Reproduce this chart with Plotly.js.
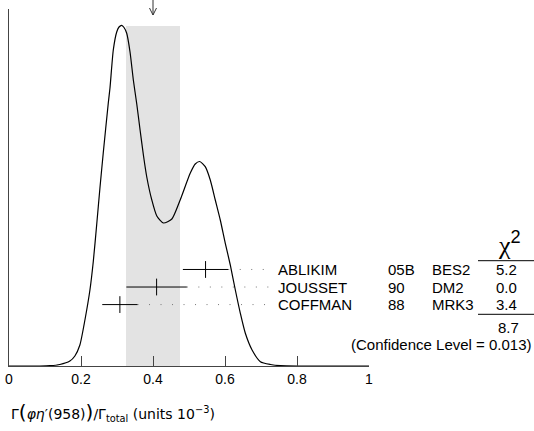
<!DOCTYPE html>
<html><head><meta charset="utf-8">
<script src="https://cdn.plot.ly/plotly-3.0.1.min.js"></script>
<style>html,body{margin:0;padding:0;background:#fff}#chart{width:534px;height:431px}</style>
</head><body><div id="chart"></div>
<script>
// Ideogram curve
const curveX = [0, 0.0855, 0.1134, 0.1412, 0.1691, 0.183, 0.1969, 0.2109, 0.2248, 0.234, 0.2435, 0.2526, 0.2618, 0.2758, 0.2805, 0.2897, 0.2992, 0.3056, 0.3131, 0.3195, 0.327, 0.3362, 0.3454, 0.3549, 0.3641, 0.3733, 0.3827, 0.3967, 0.4106, 0.429, 0.4524, 0.4755, 0.5033, 0.5173, 0.5298, 0.5451, 0.5591, 0.573, 0.5869, 0.6008, 0.6147, 0.6287, 0.6426, 0.6565, 0.6752, 0.6983, 0.7262, 0.754, 0.81, 1];
const curveY = [0, 0, 0.3, 1.5, 5, 10, 21, 46, 76, 104, 141, 178, 213, 263, 278, 316, 334, 339, 340.7, 338.5, 332.7, 314, 286, 262, 236, 211, 189, 166, 150, 143, 147, 166, 192.7, 202, 204.5, 199.3, 186, 166, 146, 122.7, 101, 76, 52.7, 32.7, 16, 4.3, 1.5, 0.3, 0, 0];

// Measurements
const names = ['ABLIKIM', 'JOUSSET', 'COFFMAN'];
const years = ['05B', '90', '88'];
const techs = ['BES2', 'DM2', 'MRK3'];
const values = [0.546, 0.41, 0.308];
const errors = [0.063, 0.084, 0.049];
const chi2 = ['5.2', '0.0', '3.4'];
const chi2Total = ['8.7'];
const confLevel = ['0.013'];

// Weighted average and its scaled error
const avgValue = [0.40];
const avgError = [0.075];
const bandTop = [340];

const tickVals = [0, 0.2, 0.4, 0.6, 0.8, 1];
const tickText = ['0', '0.2', '0.4', '0.6', '0.8', '1'];

// ---- layout constants ----
const FONT = 'Liberation Sans, Arial, sans-serif';
const W = 534, H = 431, ML = 9, MT = 9, MB = 65;
const PW = 360, PH = H - MT - MB;
const px2paperX = p => (p - ML) / PW;
const px2paperY = p => (H - MB - p) / PH;
const dotEnd = px2paperX(270);

const rowY = names.map((_, i) => names.length - i);

const traces = [];
traces.push({
  x: curveX, y: curveY, type: 'scatter', mode: 'lines',
  line: {color: '#000', width: 1.2, shape: 'spline', smoothing: 0.6},
  hoverinfo: 'skip', showlegend: false
});
names.forEach((n, i) => {
  traces.push({
    x: [values[i] + errors[i], dotEnd], y: [rowY[i], rowY[i]], yaxis: 'y2',
    type: 'scatter', mode: 'lines',
    line: {color: '#777', width: 1, dash: '1px,10.5px'},
    hoverinfo: 'skip', showlegend: false
  });
});
traces.push({
  x: values, y: rowY, yaxis: 'y2', type: 'scatter', mode: 'markers',
  marker: {symbol: 'line-ns-open', size: 12, color: '#000', line: {color: '#000', width: 1}},
  error_x: {type: 'data', array: errors, visible: true, thickness: 1, width: 0, color: '#000'},
  hoverinfo: 'skip', showlegend: false
});

const ann = [];
const xName = px2paperX(276), xYear = px2paperX(386), xTech = px2paperX(430), xChi = px2paperX(506.7);
names.forEach((n, i) => {
  const base = {xref: 'paper', yref: 'y2', y: rowY[i], yanchor: 'middle', showarrow: false,
    font: {family: FONT, size: 15, color: '#000'}};
  ann.push(Object.assign({}, base, {x: xName, xanchor: 'left', text: n}));
  ann.push(Object.assign({}, base, {x: xYear, xanchor: 'left', text: years[i]}));
  ann.push(Object.assign({}, base, {x: xTech, xanchor: 'left', text: techs[i]}));
  ann.push(Object.assign({}, base, {x: xChi, xanchor: 'center', text: chi2[i]}));
});
ann.push({xref: 'paper', yref: 'paper', x: px2paperX(508), y: px2paperY(327.3), xanchor: 'center', yanchor: 'middle',
  showarrow: false, text: chi2Total[0], font: {family: FONT, size: 15, color: '#000'}});
ann.push({xref: 'paper', yref: 'paper', x: px2paperX(534), y: px2paperY(344), xanchor: 'right', yanchor: 'middle',
  showarrow: false, text: '(Confidence Level = ' + confLevel[0] + ')', font: {family: FONT, size: 15, color: '#000'}});
ann.push({xref: 'paper', yref: 'paper', x: px2paperX(509), y: px2paperY(262), xanchor: 'center', yanchor: 'bottom',
  showarrow: false, text: 'χ<sup><span style="font-family:Liberation Sans">2</span></sup>',
  font: {family: 'Liberation Serif, serif', size: 26, color: '#000'}});
ann.push({xref: 'paper', yref: 'paper', x: px2paperX(9), y: px2paperY(412), xanchor: 'left', yanchor: 'middle',
  showarrow: false,
  text: 'Γ<span style="font-size:20px">(</span><i>φη</i>′(958)<span style="font-size:20px">)</span>/Γ<sub>total</sub> (units 10<sup>−3</sup>)',
  font: {family: 'DejaVu Sans, sans-serif', size: 14, color: '#000'}});

const shapes = [];
shapes.push({type: 'rect', xref: 'x', yref: 'y', x0: avgValue[0] - avgError[0], x1: avgValue[0] + avgError[0],
  y0: 0, y1: bandTop[0], fillcolor: '#e3e3e3', line: {width: 0}, layer: 'below'});
const aTop = px2paperY(0), aTip = px2paperY(15), aWing = px2paperY(8);
const wing = 3.5 / PW;
shapes.push({type: 'line', xref: 'x', yref: 'paper', x0: avgValue[0], x1: avgValue[0], y0: aTop, y1: aTip,
  line: {color: '#333', width: 1}});
shapes.push({type: 'path', xref: 'paper', yref: 'paper',
  path: `M ${avgValue[0] - wing} ${aWing} L ${avgValue[0]} ${aTip} L ${avgValue[0] + wing} ${aWing}`,
  line: {color: '#333', width: 1}});
[260.7, 314.3].forEach(p => {
  shapes.push({type: 'line', xref: 'paper', yref: 'paper', x0: px2paperX(478), x1: px2paperX(534),
    y0: px2paperY(p), y1: px2paperY(p), line: {color: '#000', width: 1}});
});

const layout = {
  width: W, height: H,
  margin: {l: ML, r: W - ML - PW, t: MT, b: MB, pad: 0},
  paper_bgcolor: '#fff', plot_bgcolor: 'rgba(0,0,0,0)',
  showlegend: false,
  xaxis: {range: [0, 1], showgrid: false, zeroline: false, showline: true, linecolor: '#444', linewidth: 1,
    ticks: 'inside', ticklen: 10, tickwidth: 1, tickcolor: '#444', tickvals: tickVals, ticktext: tickText,
    tickfont: {family: FONT, size: 14, color: '#000'}, fixedrange: true},
  yaxis: {range: [0, PH], showgrid: false, zeroline: false, showline: true, linecolor: '#444', linewidth: 1,
    ticks: '', showticklabels: false, fixedrange: true},
  yaxis2: {overlaying: 'y', range: [-2.5, -2.5 + PH / 17.55], visible: false, fixedrange: true},
  annotations: ann, shapes: shapes
};

Plotly.newPlot('chart', traces, layout, {staticPlot: true, displayModeBar: false});
</script>
</body></html>
